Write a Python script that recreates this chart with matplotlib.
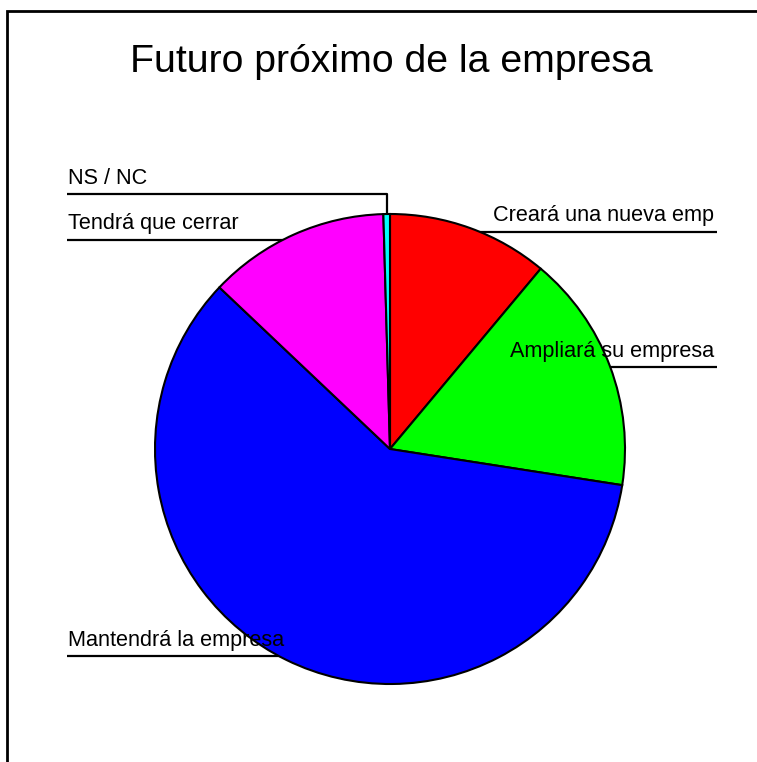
import numpy as np
import matplotlib
matplotlib.use("Agg")
import matplotlib.pyplot as plt
from matplotlib.patches import Rectangle

# Data
categories = ["Creará una nueva emp", "Ampliará su empresa", "Mantendrá la empresa",
              "Tendrá que cerrar", "NS / NC"]
values = [11.1, 16.4, 59.7, 12.5, 0.45]
colors = ["#FF0000", "#00FF00", "#0000FF", "#FF00FF", "#00FFFF"]
title = "Futuro próximo de la empresa"

W, H = 757, 762
fig = plt.figure(figsize=(W / 100, H / 100), dpi=100)
ax = fig.add_axes([0, 0, 1, 1])

def Y(y):
    return H - y

font = "Liberation Sans"

cx, cy, r = 390, Y(449), 235
wedges, _ = ax.pie(values, colors=colors, startangle=90, counterclock=False,
                   center=(cx, cy), radius=r,
                   wedgeprops=dict(edgecolor="black", linewidth=1.5, zorder=3),
                   frame=True)
ax.set_xlim(0, W)
ax.set_ylim(0, H)
ax.set_aspect("equal")
ax.axis("off")

# frame
ax.add_patch(Rectangle((7, Y(900)), 900, 900 - 11, fill=False, edgecolor="black",
                       linewidth=2, zorder=1))

# label layout: (x_text, line_y, side)
layout = {
    "Creará una nueva emp": (717, 231.5, "right"),
    "Ampliará su empresa": (717, 366.5, "right"),
    "Mantendrá la empresa": (67, 656, "left"),
    "Tendrá que cerrar": (67, 239.5, "left"),
    "NS / NC": (67, 193.5, "left"),
}

for w, cat in zip(wedges, categories):
    ang = np.deg2rad((w.theta1 + w.theta2) / 2)
    axp = cx + r * np.cos(ang)
    ayp = cy + r * np.sin(ang)
    lx, ly, side = layout[cat]
    ly = Y(ly)
    ax.plot([lx, axp, axp], [ly, ly, ayp], color="black", linewidth=1.6, zorder=2,
            solid_capstyle="butt")
    ha = "right" if side == "right" else "left"
    tx = lx - 3 if side == "right" else lx + 1
    ax.text(tx, ly + 10, cat, ha=ha, va="baseline", fontsize=15.6,
            family=font, color="black", zorder=5)

ax.text(391, Y(72), title, ha="center", va="baseline", fontsize=28.3,
        family=font, color="black", zorder=5)

fig.savefig("out.png", dpi=100, facecolor="white")
